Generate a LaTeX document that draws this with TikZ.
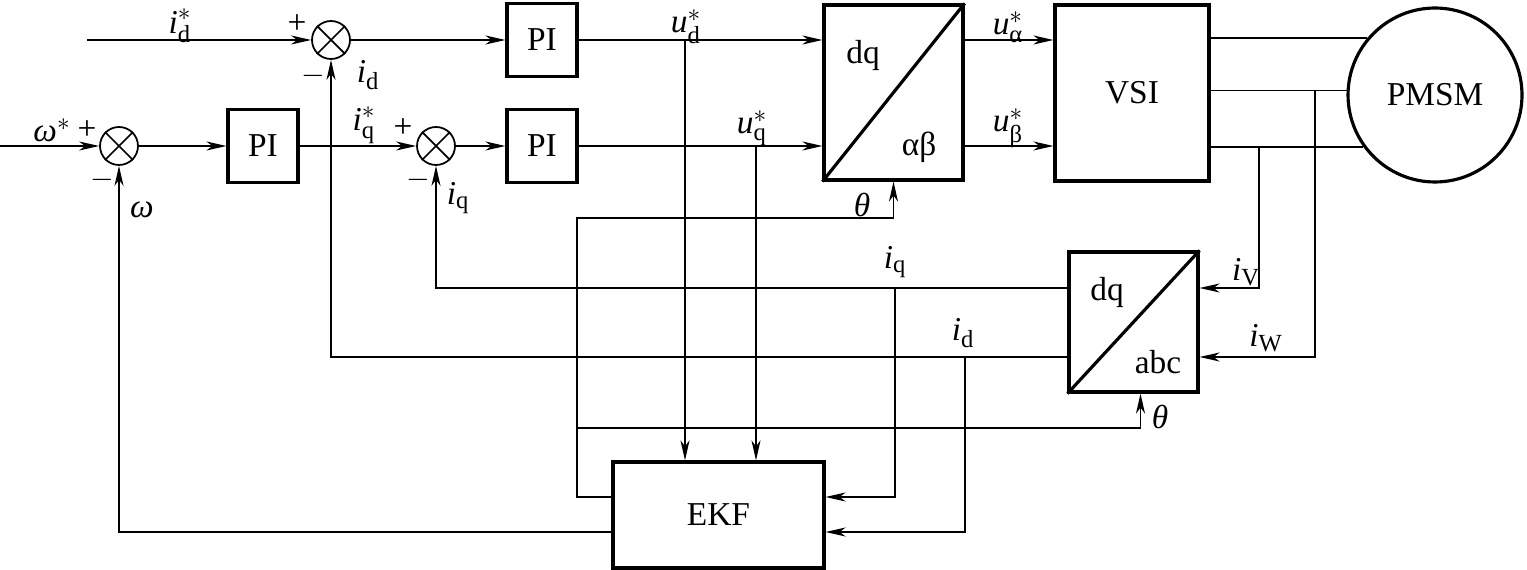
\documentclass[tikz,border=0pt]{standalone}
\usepackage{amsmath}
\usepackage{fontspec}
\setmainfont{Liberation Serif}
\DeclareMathSizes{19}{19}{14}{11}
\usetikzlibrary{arrows.meta,calc}
\begin{document}
\begin{tikzpicture}[x=0.02cm,y=-0.02cm,
  font=\fontsize{19}{22}\selectfont,
  ln/.style={line width=0.9pt},
  arr/.style={ln,-{Stealth[length=0.4cm,width=0.18cm,inset=0.12cm]}},
  blk/.style={draw,line width=1.8pt,inner sep=0pt},
  sumc/.style={draw,circle,line width=1pt,minimum size=0.76cm,inner sep=0pt},
  lbl/.style={inner sep=0pt}]
\useasboundingbox (0,0) rectangle (1527,570);

% summing junctions
\node[sumc] (s1) at (331,40) {};
\node[sumc] (s2) at (119,146) {};
\node[sumc] (s3) at (436,146) {};
\foreach \s in {s1,s2,s3}
  \draw[line width=1pt] (\s.north west) -- (\s.south east) (\s.north east) -- (\s.south west);

% blocks
\node[blk,minimum width=1.4cm,minimum height=1.46cm] (pi1) at (263,146) {PI};
\node[blk,minimum width=1.4cm,minimum height=1.46cm] (pi2) at (542,40) {PI};
\node[blk,minimum width=1.4cm,minimum height=1.46cm] (pi3) at (542,146) {PI};
\node[blk,minimum width=2.78cm,minimum height=3.5cm] (dqa) at (893.5,92.5) {};
\draw[line width=1.8pt] (dqa.south west) -- (dqa.north east);
\node[blk,minimum width=3.08cm,minimum height=3.52cm] (vsi) at (1132,93) {VSI};
\node[draw,circle,line width=1.8pt,minimum size=3.48cm,inner sep=0pt] (pmsm) at (1435,95) {PMSM};
\node[blk,minimum width=2.58cm,minimum height=2.8cm] (dqb) at (1133.5,322) {};
\draw[line width=1.8pt] (dqb.south west) -- (dqb.north east);
\node[blk,minimum width=4.22cm,minimum height=2.12cm] (ekf) at (718.5,515) {EKF};

\node[lbl] (tdq1) at (863,55) {dq};
\node[lbl] (tab) at (919,147) {αβ};
\node[lbl] (tdq2) at (1107,292) {dq};
\node[lbl] (tabc) at (1158,362) {abc};

% coordinates
\coordinate (in1) at (87,40);
\coordinate (in2) at (0,146);
\coordinate (jud) at (685,40);
\coordinate (juq) at (756,146);
\coordinate (tv) at (1259,146);
\coordinate (tw) at (1315,90);
\coordinate (th1) at (577,218);
\coordinate (jth) at (577,428);
\coordinate (jiq) at (895,288);
\coordinate (jid) at (965,357);

% forward path
\draw[arr] (in1) -- (s1.west);
\draw[arr] (s1.east) -- (pi2.west);
\draw[arr] (pi2.east) -- (dqa.west |- pi2.east);
\draw[arr] (in2) -- (s2.west);
\draw[arr] (s2.east) -- (pi1.west);
\draw[arr] (pi1.east) -- (s3.west);
\draw[arr] (s3.east) -- (pi3.west);
\draw[arr] (pi3.east) -- (dqa.west |- pi3.east);
\draw[arr] (dqa.east |- pi2.east) -- (vsi.west |- pi2.east);
\draw[arr] (dqa.east |- pi3.east) -- (vsi.west |- pi3.east);
\draw[ln] (vsi.east |- pmsm.140) -- (pmsm.140);
\draw[ln] (vsi.east |- pmsm.177) -- (pmsm.177);
\draw[ln] (vsi.east |- pmsm.216) -- (pmsm.216);

% current measurement
\draw[arr] (tv) |- (dqb.east |- jiq);
\draw[arr] (tw) |- (dqb.east |- jid);
\draw[arr] (dqb.west |- jiq) -| (s3.south);
\draw[arr] (dqb.west |- jid) -| (s1.south);

% EKF inputs
\draw[arr] (jud) -- (jud |- ekf.north);
\draw[arr] (juq) -- (juq |- ekf.north);
\draw[arr] (jiq) |- ($(ekf.east)+(0,-18)$);
\draw[arr] (jid) |- ($(ekf.east)+(0,17)$);

% EKF outputs
\draw[arr] ($(ekf.west)+(0,-18)$) -| (th1) -| (dqa.south);
\draw[arr] (jth) -| ($(dqb.south)+(7,0)$);
\draw[arr] ($(ekf.west)+(0,17)$) -| (s2.south);

% labels
\node[lbl] (lids) at (180,26) {$\textit{i}^{*}_{\text{d}}$};
\node[lbl] (lp1) at (297,24) {+};
\node[lbl] (lm1) at (313,76) {$-$};
\node[lbl] (lid1) at (368,75) {$\textit{i}_{\text{d}}$};
\node[lbl] (lws) at (52,130) {$\textit{ω}^{*}$};
\node[lbl] (lp2) at (87,130) {+};
\node[lbl] (lm2) at (102,180) {$-$};
\node[lbl] (lw) at (142,210) {\textit{ω}};
\node[lbl] (liqs) at (364,125) {$\textit{i}^{*}_{\text{q}}$};
\node[lbl] (lp3) at (403,128) {+};
\node[lbl] (lm3) at (418,180) {$-$};
\node[lbl] (liq1) at (458,198) {$\textit{i}_{\text{q}}$};
\node[lbl] (luds) at (686,27) {$\textit{u}^{*}_{\text{d}}$};
\node[lbl] (luqs) at (752,128) {$\textit{u}^{*}_{\text{q}}$};
\node[lbl] (luas) at (1008,27) {$\textit{u}^{*}_{\text{α}}$};
\node[lbl] (lubs) at (1008,128) {$\textit{u}^{*}_{\text{β}}$};
\node[lbl] (lth1) at (862,205) {\textit{θ}};
\node[lbl] (liq2) at (895,262) {$\textit{i}_{\text{q}}$};
\node[lbl] (lid2) at (963,333) {$\textit{i}_{\text{d}}$};
\node[lbl] (liv) at (1246,272) {$\textit{i}_{\text{V}}$};
\node[lbl] (liw) at (1266,338) {$\textit{i}_{\text{W}}$};
\node[lbl] (lth2) at (1160,417) {\textit{θ}};
\end{tikzpicture}
\end{document}
